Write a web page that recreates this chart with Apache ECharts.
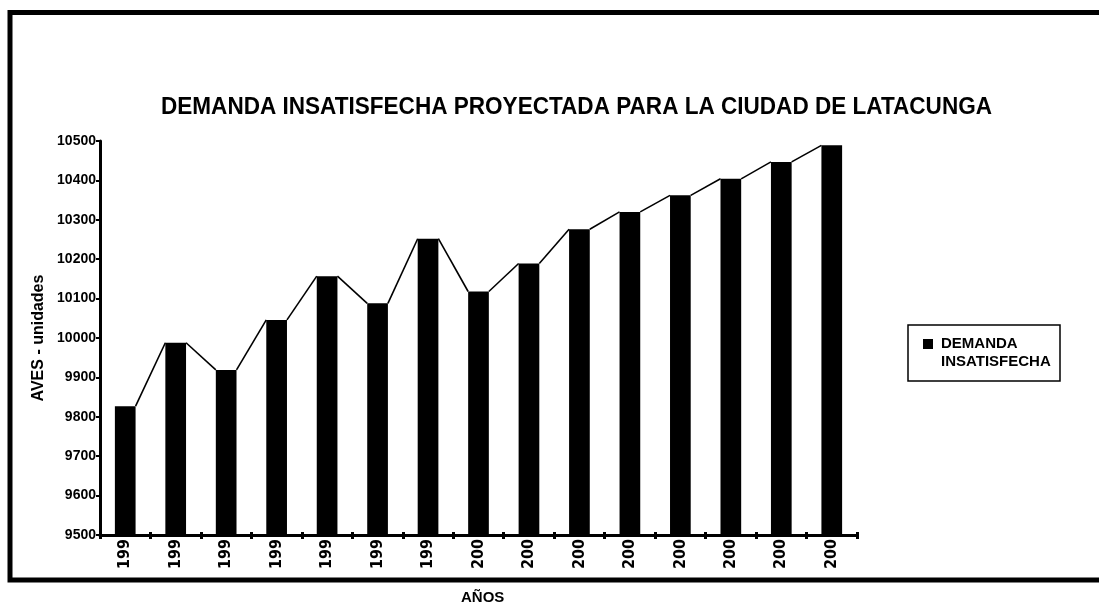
<!DOCTYPE html>
<html>
<head>
<meta charset="utf-8">
<title>Demanda insatisfecha proyectada</title>
<script src="https://cdn.jsdelivr.net/npm/echarts@6/dist/echarts.min.js"></script>
<style>
  html, body { margin: 0; padding: 0; background: #fff; }
  #chart { width: 1099px; height: 604px; }
</style>
</head>
<body>
<div id="chart"></div>
<script>
// Years on the category axis
const years = ['1993', '1994', '1995', '1996', '1997', '1998', '1999',
               '2000', '2001', '2002', '2003', '2004', '2005', '2006', '2007'];
// Unmet demand (AVES - unidades) per year
const demanda = [9827, 9988, 9919, 10046, 10157, 10088, 10252,
                 10118, 10189, 10276, 10320, 10362, 10404, 10447, 10489];
// Value axis ticks
const yTicks = [9500, 9600, 9700, 9800, 9900, 10000, 10100, 10200, 10300, 10400, 10500];

const titleText = 'DEMANDA INSATISFECHA PROYECTADA PARA LA CIUDAD DE LATACUNGA';
const seriesName = 'DEMANDA INSATISFECHA';
const BAR_RATIO = 0.41;
const FONT = "'Liberation Sans', Arial, sans-serif";
const NARROW = "'Liberation Sans Narrow', 'Arial Narrow', 'DejaVu Sans Condensed', 'Liberation Sans', sans-serif";

// Title is set tight: measure its natural width and squeeze it horizontally
const TITLE_SIZE = 24;
const TITLE_WIDTH = 831;
const measureCtx = document.createElement('canvas').getContext('2d');
measureCtx.font = 'bold ' + TITLE_SIZE + "px 'Liberation Sans', Arial, sans-serif";
const titleScale = TITLE_WIDTH / measureCtx.measureText(titleText).width;

// Segments joining the top-right corner of each bar to the top-left corner of the next
const links = demanda.slice(0, -1).map((v, i) => [i, v, demanda[i + 1]]);

const chart = echarts.init(document.getElementById('chart'), null, { renderer: 'canvas' });

chart.setOption({
  backgroundColor: '#fff',
  animation: false,
  grid: { left: 100, right: 242, top: 141, bottom: 69, containLabel: false },
  xAxis: [
    {
      type: 'category',
      data: years,
      boundaryGap: true,
      position: 'bottom',
      axisLine: { lineStyle: { color: '#000', width: 3 } },
      axisTick: { show: true, length: 4, lineStyle: { color: '#000', width: 3 } },
      axisLabel: {
        rotate: 90,
        margin: 4,
        interval: 0,
        color: '#000',
        fontFamily: NARROW,
        fontWeight: 'bold',
        fontSize: 16,
        // the narrow axis only leaves room for the first three digits
        formatter: v => v.slice(0, 3)
      }
    },
    {
      // inner half of the tick marks, so they cross the axis line
      type: 'category',
      data: years,
      boundaryGap: true,
      position: 'bottom',
      axisLine: { show: false },
      axisTick: { show: true, inside: true, length: 3, lineStyle: { color: '#000', width: 3 } },
      axisLabel: { show: false },
      splitLine: { show: false }
    }
  ],
  yAxis: {
    type: 'value',
    min: yTicks[0],
    max: yTicks[yTicks.length - 1],
    interval: yTicks[1] - yTicks[0],
    name: 'AVES - unidades',
    nameLocation: 'middle',
    nameGap: 53,
    nameTextStyle: { fontFamily: FONT, fontWeight: 'bold', fontSize: 16, color: '#000' },
    splitLine: { show: false },
    axisLine: { show: true, lineStyle: { color: '#000', width: 3 } },
    axisTick: { show: true, length: 4, lineStyle: { color: '#000', width: 2 } },
    axisLabel: {
      margin: 4,
      color: '#000',
      fontFamily: FONT,
      fontWeight: 'bold',
      fontSize: 14,
      formatter: v => String(v)
    }
  },
  series: [
    {
      name: seriesName,
      type: 'bar',
      data: demanda,
      barWidth: (BAR_RATIO * 100) + '%',
      itemStyle: { color: '#000' },
      z: 2
    },
    {
      name: 'enlace',
      type: 'custom',
      data: links,
      encode: { x: 0, y: [1, 2] },
      z: 3,
      renderItem: function (params, api) {
        const i = api.value(0);
        const a = api.coord([i, api.value(1)]);
        const b = api.coord([i + 1, api.value(2)]);
        const half = api.size([1, 0])[0] * BAR_RATIO / 2;
        return {
          type: 'line',
          shape: { x1: a[0] + half, y1: a[1], x2: b[0] - half, y2: b[1] },
          style: { stroke: '#000', lineWidth: 1.6 }
        };
      }
    }
  ],
  graphic: [
    // outer frame
    {
      type: 'rect',
      shape: { x: 10, y: 12.5, width: 1200, height: 567.5 },
      style: { fill: null, stroke: '#000', lineWidth: 5 },
      silent: true
    },
    // chart title
    {
      type: 'text',
      x: 161,
      y: 107,
      scaleX: titleScale,
      style: {
        text: titleText,
        fontFamily: FONT,
        fontWeight: 'bold',
        fontSize: TITLE_SIZE,
        fill: '#000',
        align: 'left',
        verticalAlign: 'middle'
      }
    },
    // x axis title
    {
      type: 'text',
      x: 461,
      y: 590,
      style: { text: 'AÑOS', fontFamily: FONT, fontWeight: 'bold', fontSize: 15, fill: '#000' }
    },
    // legend box
    {
      type: 'group',
      x: 908,
      y: 325,
      children: [
        {
          type: 'rect',
          shape: { x: 0, y: 0, width: 152, height: 56 },
          style: { fill: '#fff', stroke: '#000', lineWidth: 1.5 }
        },
        {
          type: 'rect',
          shape: { x: 15, y: 14, width: 10, height: 10 },
          style: { fill: '#000' }
        },
        {
          type: 'text',
          x: 33,
          y: 10,
          style: {
            text: seriesName.replace(' ', '\n'),
            fontFamily: FONT,
            fontWeight: 'bold',
            fontSize: 15,
            lineHeight: 18,
            fill: '#000'
          }
        }
      ]
    }
  ]
});
</script>
</body>
</html>
